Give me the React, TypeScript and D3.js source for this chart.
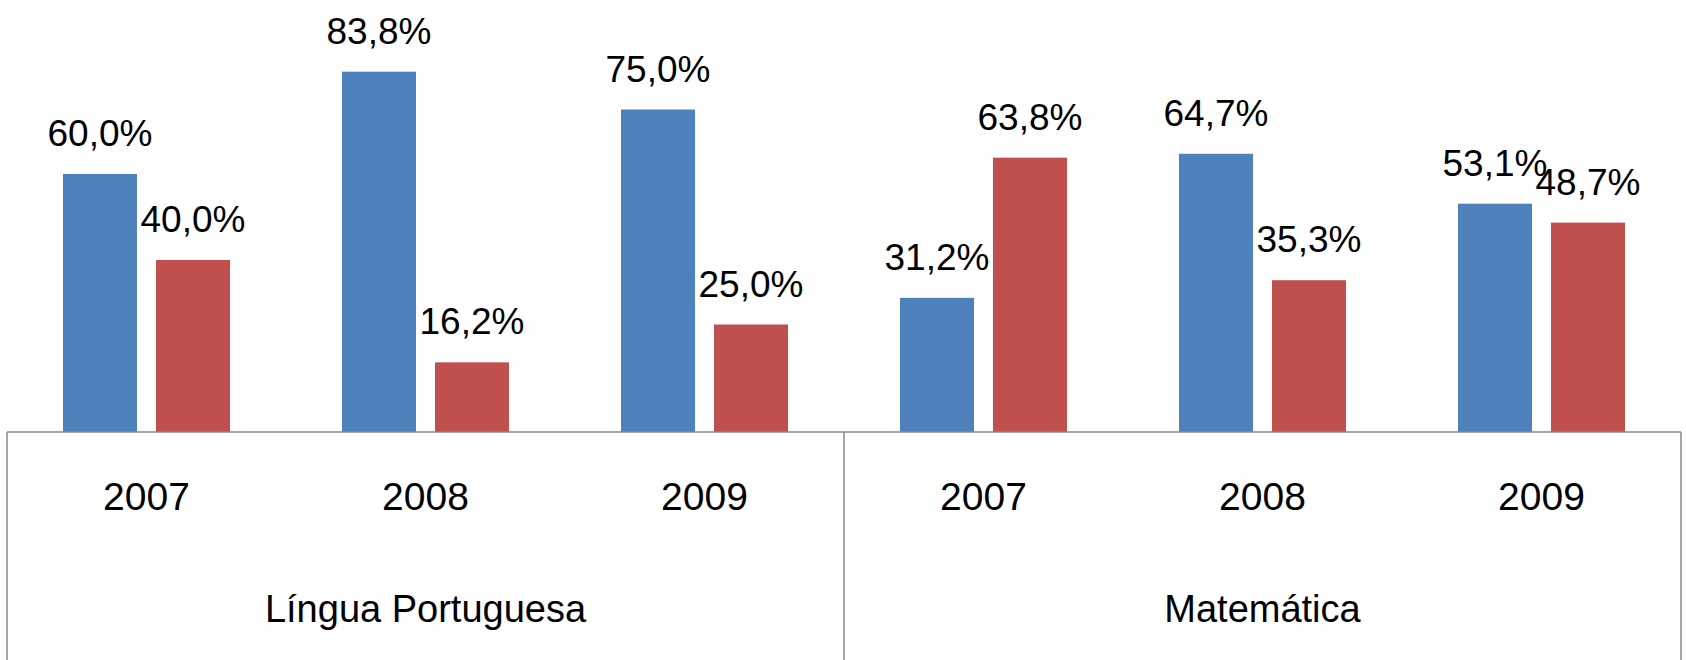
import * as d3 from "d3";

const subjects = ["Língua Portuguesa", "Matemática"];
const years = ["2007", "2008", "2009"];
const seriesKeys = ["a", "b"];
const blueValues = [60.0, 83.8, 75.0, 31.2, 64.7, 53.1];
const redValues = [40.0, 16.2, 25.0, 63.8, 35.3, 48.7];
const colors = ["#4F81BD", "#C0504D"];

const W = 1686;
const H = 660;
const left = 7;
const right = 1681;
const axisY = 432;

function fmt(v: number) {
  return v.toFixed(1).replace(".", ",") + "%";
}

export default function App() {
  const cats = subjects.flatMap((s) => years.map((y) => s + "|" + y));
  const x0 = d3.scaleBand<string>().domain(cats).range([left, right]);
  const x1 = d3
    .scaleBand<string>()
    .domain(seriesKeys)
    .range([0, x0.bandwidth()])
    .paddingInner(19 / 93)
    .paddingOuter(0.602);
  const y = d3.scaleLinear().domain([0, 100]).range([axisY, 2]);

  const groupX = d3
    .scaleBand<string>()
    .domain(subjects)
    .range([left, right]);

  const series = [blueValues, redValues];

  return (
    <svg
      width={W}
      height={H}
      style={{ position: "absolute", left: 0, top: 0, background: "#fff" }}
    >
      {cats.map((c, i) => (
        <g key={c} transform={`translate(${x0(c)},0)`}>
          {series.map((vals, s) => {
            const v = vals[i];
            const bx = x1(seriesKeys[s])!;
            return (
              <g key={s}>
                <rect
                  x={bx}
                  y={y(v)}
                  width={x1.bandwidth()}
                  height={axisY - y(v)}
                  fill={colors[s]}
                />
                <text
                  x={bx + x1.bandwidth() / 2}
                  y={y(v) - 28}
                  textAnchor="middle"
                  fontFamily="Liberation Sans, Arial, sans-serif"
                  fontSize={37}
                  fill="#000"
                >
                  {fmt(v)}
                </text>
              </g>
            );
          })}
          <text
            x={x0.bandwidth() / 2}
            y={510}
            textAnchor="middle"
            fontFamily="Liberation Sans, Arial, sans-serif"
            fontSize={39}
            fill="#000"
          >
            {c.split("|")[1]}
          </text>
        </g>
      ))}

      {/* category axis box */}
      <line x1={left} x2={right} y1={axisY} y2={axisY} stroke="#898989" strokeWidth={1.5} />
      {[left, groupX(subjects[1])!, right].map((lx, i) => (
        <line key={i} x1={lx} x2={lx} y1={axisY} y2={H} stroke="#898989" strokeWidth={1.5} />
      ))}
      {subjects.map((s) => (
        <text
          key={s}
          x={groupX(s)! + groupX.bandwidth() / 2}
          y={622}
          textAnchor="middle"
          fontFamily="Liberation Sans, Arial, sans-serif"
          fontSize={38}
          fill="#000"
        >
          {s}
        </text>
      ))}
    </svg>
  );
}
